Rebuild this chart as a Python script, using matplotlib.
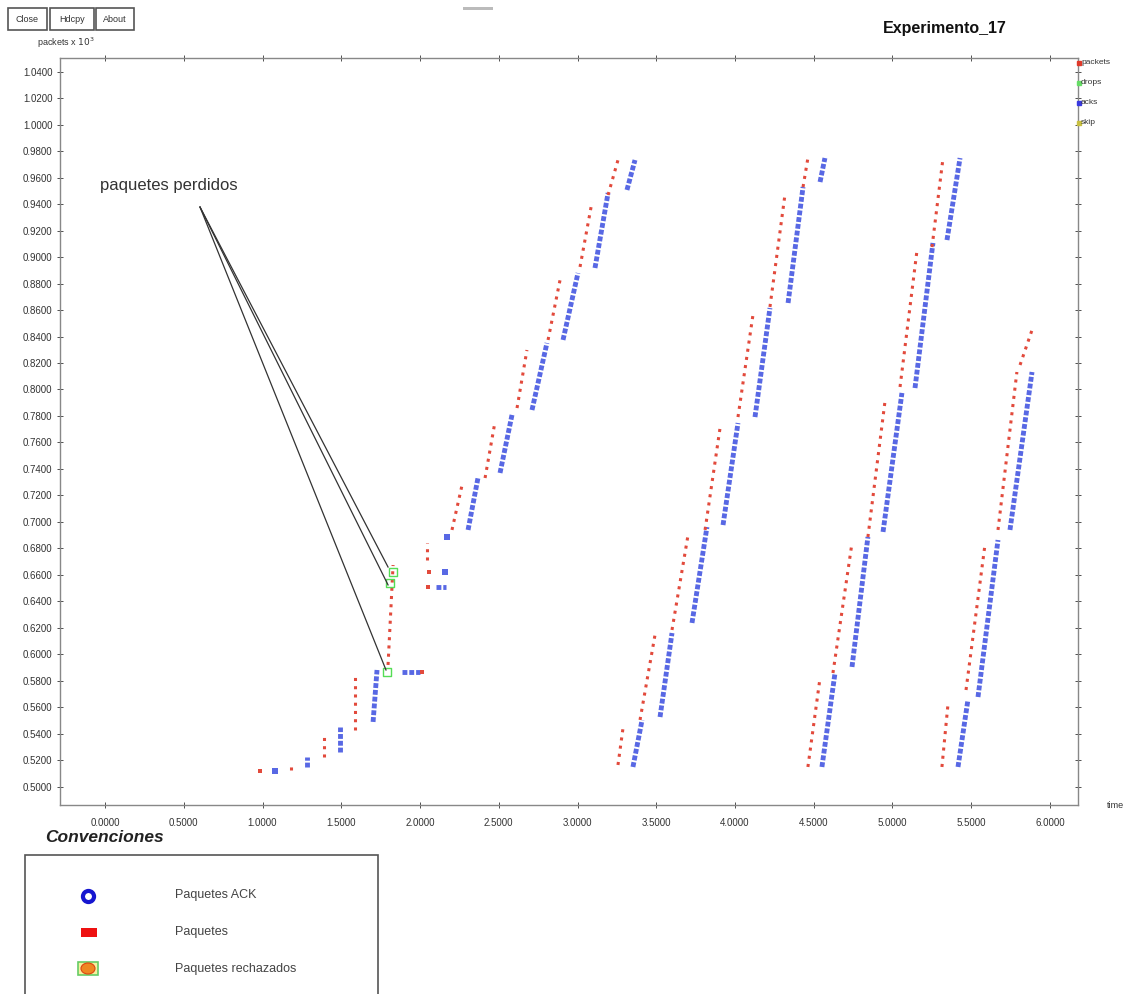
import matplotlib
matplotlib.use("Agg")
import matplotlib.pyplot as plt
from matplotlib import patches
from matplotlib.lines import Line2D

plt.rcParams['font.family'] = ['Liberation Sans', 'DejaVu Sans']

# ---------------- data (time in s, sequence in packets x 10^3) ----------------
# packet bursts: start/end time, start/end sequence
pkt_t0 = [1.181, 1.390, 1.587, 1.797, 2.044, 2.203, 2.413, 2.616, 2.813, 3.016, 3.194,
          3.257, 3.397, 3.600, 3.810, 4.019, 4.222, 4.432,
          4.463, 4.622, 4.844, 5.048, 5.251,
          5.314, 5.467, 5.670, 5.810]
pkt_t1 = [1.181, 1.390, 1.587, 1.829, 2.044, 2.267, 2.476, 2.679, 2.889, 3.092, 3.257,
          3.289, 3.492, 3.702, 3.905, 4.114, 4.317, 4.463,
          4.540, 4.743, 4.952, 5.156, 5.321,
          5.352, 5.587, 5.790, 5.886]
pkt_v0 = [0.5128, 0.5226, 0.5430, 0.5921, 0.6713, 0.6940, 0.7332, 0.7860, 0.8374, 0.8925, 0.9468,
          0.5166, 0.5506, 0.6185, 0.6940, 0.7792, 0.8623, 0.9528,
          0.5151, 0.5860, 0.6887, 0.8019, 0.9075,
          0.5151, 0.5732, 0.6940, 0.8185]
pkt_v1 = [0.5166, 0.5392, 0.5830, 0.6675, 0.6842, 0.7279, 0.7755, 0.8298, 0.8826, 0.9415, 0.9732,
          0.5445, 0.6147, 0.6902, 0.7709, 0.8562, 0.9468, 0.9747,
          0.5823, 0.6842, 0.7906, 0.9053, 0.9747,
          0.5619, 0.6826, 0.8132, 0.8449]
# isolated packets
pkt_single_t = [0.984, 2.013, 2.051, 2.057]
pkt_single_v = [0.5121, 0.5868, 0.6509, 0.6623]

# ACK bursts
ack_t0 = [1.283, 1.492, 1.702, 1.886, 2.102, 2.305, 2.508, 2.711, 2.908, 3.111, 3.314,
          3.352, 3.524, 3.727, 3.924, 4.127, 4.337, 4.540,
          4.552, 4.743, 4.940, 5.143, 5.346,
          5.416, 5.543, 5.746]
ack_t1 = [1.283, 1.492, 1.727, 2.000, 2.165, 2.368, 2.584, 2.806, 3.003, 3.194, 3.365,
          3.410, 3.600, 3.822, 4.019, 4.222, 4.432, 4.571,
          4.635, 4.844, 5.060, 5.257, 5.429,
          5.479, 5.670, 5.886]
ack_v0 = [0.5151, 0.5264, 0.5491, 0.5868, 0.6509, 0.6940, 0.7370, 0.7845, 0.8374, 0.8917, 0.9506,
          0.5151, 0.5528, 0.6238, 0.6977, 0.7792, 0.8653, 0.9566,
          0.5151, 0.5906, 0.6925, 0.8011, 0.9128,
          0.5151, 0.5679, 0.6940]
ack_v1 = [0.5226, 0.5453, 0.5883, 0.5868, 0.6509, 0.7332, 0.7808, 0.8351, 0.8879, 0.9483, 0.9732,
          0.5506, 0.6162, 0.6962, 0.7747, 0.8615, 0.9528, 0.9747,
          0.5860, 0.6887, 0.7974, 0.9106, 0.9747,
          0.5657, 0.6864, 0.8132]
ack_single_t = [1.079, 2.159, 2.171]
ack_single_v = [0.5121, 0.6623, 0.6887]

# dropped packets
drop_t = [1.790, 1.810, 1.829]
drop_v = [0.5868, 0.6540, 0.6623]

# annotation targets
note_text = "paquetes perdidos"
note_src = (0.603, 0.9377)
note_dst_t = [1.797, 1.797, 1.784]
note_dst_v = [0.6660, 0.6525, 0.5883]

yticks = [0.50 + 0.02 * i for i in range(28)]
xticks = [0.5 * i for i in range(13)]

legend_top = ["packets", "drops", "acks", "skip"]
legend_top_colors = ["#e03a2a", "#66dd66", "#3a3ae0", "#c8c040"]
legend_bottom = ["Paquetes ACK", "Paquetes", "Paquetes rechazados"]

# ---------------- figure ----------------
W, H = 1127, 994
fig = plt.figure(figsize=(W / 100, H / 100), dpi=100)
fx = lambda px: px / W
fy = lambda py: 1 - py / H

ax = fig.add_axes([fx(60), fy(805), fx(1078) - fx(60), fy(58) - fy(805)])
ax.set_xlim(-0.286, 6.178)
ax.set_ylim(0.4864, 1.0502)

RED = "#e24a3c"
BLUE = "#5868e4"

for a, b, c, d in zip(pkt_t0, pkt_t1, pkt_v0, pkt_v1):
    ax.plot([a, b], [c, d], color=RED, lw=2.2, linestyle=(0, (1, 1.7)), zorder=3)
ax.scatter(pkt_single_t, pkt_single_v, marker='s', s=8, color=RED, zorder=3, linewidths=0)

for a, b, c, d in zip(ack_t0, ack_t1, ack_v0, ack_v1):
    ax.plot([a, b], [c, d], color=BLUE, lw=3.5, linestyle=(0, (1, 0.4)), zorder=2)
ax.scatter(ack_single_t, ack_single_v, marker='s', s=18, color=BLUE, zorder=2, linewidths=0)

ax.scatter(drop_t, drop_v, marker='s', s=30, facecolors='none', edgecolors='#55dd55',
           linewidths=1.0, zorder=4)

for t, v in zip(note_dst_t, note_dst_v):
    ax.plot([note_src[0], t], [note_src[1], v], color='#333333', lw=0.9, zorder=5)
ax.text(-0.032, 0.9543, note_text, fontsize=12, color='#333333', va='center', ha='left')

ax.set_yticks(yticks)
ax.set_yticklabels([f"{v:.4f}" for v in yticks])
ax.set_xticks(xticks)
ax.set_xticklabels([f"{v:.4f}" for v in xticks])
ax.tick_params(axis='both', labelsize=7, colors='#333333', direction='inout', length=4,
               width=0.6, top=True, right=True)
ax.tick_params(axis='x', pad=7)
for s in ax.spines.values():
    s.set_color('#888888')
    s.set_linewidth(1.0)

# axis labels
fig.text(fx(37), fy(43), r"packets x $10^3$", fontsize=6.5, color='#333333', va='center')
fig.text(fx(1107), fy(805), "time", fontsize=6.5, color='#333333', va='center')

# title
fig.text(fx(945), fy(28), "Experimento_17", fontsize=11.5, fontweight='bold',
         ha='center', va='center', color='#111111')

# buttons
for x0, x1, lab in [(8, 47, "Close"), (50, 94, "Hdcpy"), (96, 134, "About")]:
    fig.add_artist(patches.Rectangle((fx(x0), fy(30)), fx(x1) - fx(x0), fy(8) - fy(30),
                                     transform=fig.transFigure, fill=False,
                                     edgecolor='#555555', lw=1.2))
    fig.text(fx((x0 + x1) / 2), fy(19), lab, fontsize=6.5, ha='center', va='center',
             color='#333333')
fig.add_artist(patches.Rectangle((fx(463), fy(10)), fx(30), fy(7) - fy(10),
                                 transform=fig.transFigure, color='#bbbbbb', lw=0))

# top-right legend
for i, (lab, col) in enumerate(zip(legend_top, legend_top_colors)):
    yy = 63 + 20 * i
    fig.add_artist(Line2D([fx(1079)], [fy(yy)], marker='s', markersize=3.5, color=col,
                          transform=fig.transFigure, lw=0))
    fig.text(fx(1081), fy(yy), lab, fontsize=6, ha='left', va='center', color='#333333')

# bottom conventions
fig.text(fx(45), fy(838), "Convenciones", fontsize=12.5, fontweight='bold',
         fontstyle='italic', ha='left', va='center', color='#222222')
fig.add_artist(patches.Rectangle((fx(25), fy(1000)), fx(378) - fx(25), fy(855) - fy(1000),
                                 transform=fig.transFigure, fill=False,
                                 edgecolor='#555555', lw=1.2))
fig.add_artist(Line2D([fx(88)], [fy(896)], marker='o', markersize=8, mfc='white',
                      mec='#1616d0', mew=3, transform=fig.transFigure, lw=0))
fig.add_artist(patches.Rectangle((fx(81), fy(937)), fx(16), fy(928) - fy(937),
                                 transform=fig.transFigure, color='#ee1111', lw=0))
fig.add_artist(patches.Rectangle((fx(78), fy(975)), fx(20), fy(962) - fy(975),
                                 transform=fig.transFigure, facecolor='#f4f0a0',
                                 edgecolor='#66cc66', lw=1.2))
fig.add_artist(patches.Ellipse((fx(88), fy(968.5)), fx(14), fy(963) - fy(974),
                               transform=fig.transFigure, facecolor='#ee8822',
                               edgecolor='#dd4411', lw=0.8))
for i, lab in enumerate(legend_bottom):
    fig.text(fx(175), fy(895 + 37 * i), lab, fontsize=9, ha='left', va='center',
             color='#444444')

fig.savefig("out.png", dpi=100)
